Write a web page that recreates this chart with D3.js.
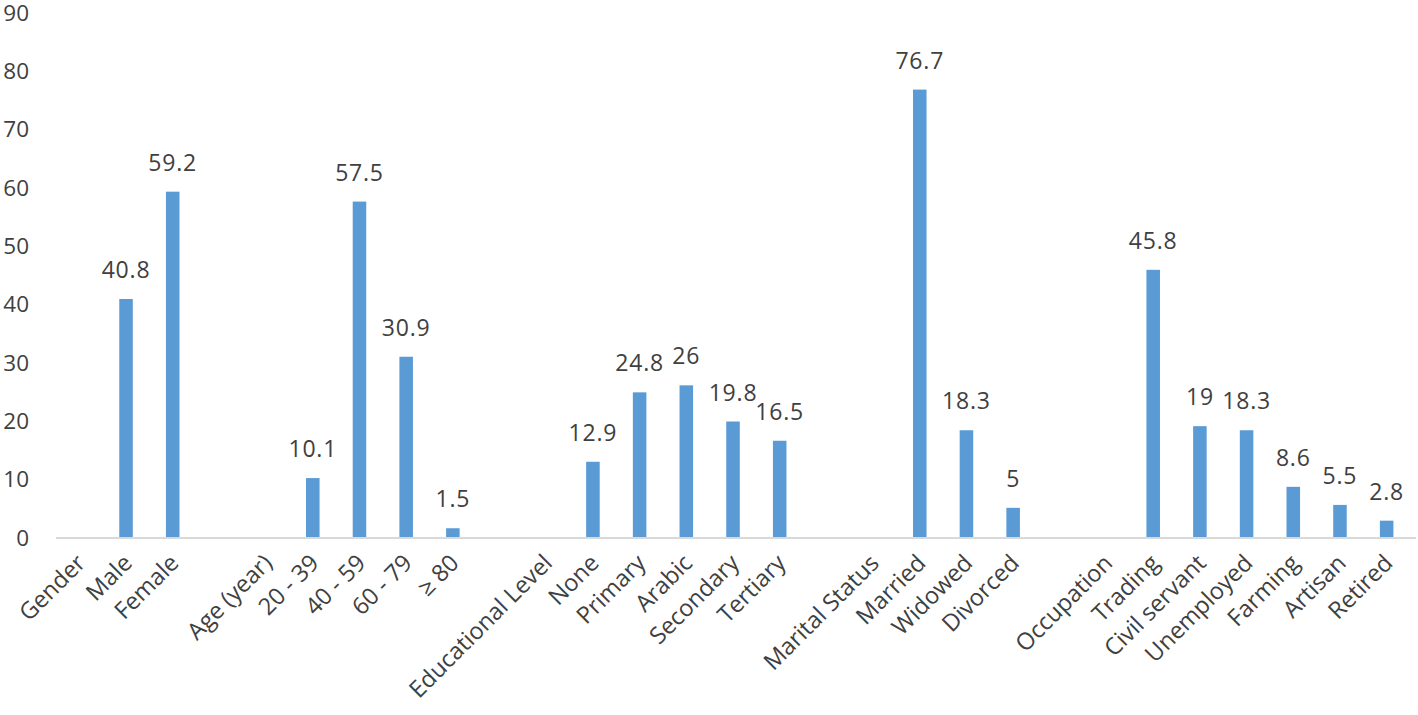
<!DOCTYPE html>
<html><head><meta charset="utf-8">
<script src="https://cdn.jsdelivr.net/npm/d3@7"></script>
<style>body{margin:0;background:#fff}text{font-family:"Open Sans",sans-serif}</style>
</head><body><svg id="c" width="1418" height="715"></svg>
<script>
const categories = ["Gender","Male","Female","","Age (year)","20 - 39","40 - 59","60 - 79","≥ 80","","Educational Level","None","Primary","Arabic","Secondary","Tertiary","","Marital Status","Married","Widowed","Divorced","","Occupation","Trading","Civil servant","Unemployed","Farming","Artisan","Retired"];
const values = [null,40.8,59.2,null,null,10.1,57.5,30.9,1.5,null,null,12.9,24.8,26,19.8,16.5,null,null,76.7,18.3,5,null,null,45.8,19,18.3,8.6,5.5,2.8];
const yTicks = [0,10,20,30,40,50,60,70,80,90];

const svg = d3.select("#c");
const keys = categories.map((c,i)=>i);
const x = d3.scaleBand().domain(keys).range([56,1410]).paddingInner(0.71).paddingOuter(0.355);
const y = d3.scaleLinear().domain([0,90]).range([537,12]);
const col = "#404040";

// y tick labels
svg.append("g").attr("transform","translate(29,0)")
  .call(d3.axisLeft(y).tickValues(yTicks).tickSize(0).tickPadding(0))
  .call(g=>g.select(".domain").remove())
  .selectAll("text").attr("font-size",22.5).attr("fill",col).attr("font-family","Open Sans, sans-serif").attr("dy","0.36em");

// baseline
svg.append("line").attr("x1",56).attr("x2",1416).attr("y1",y(0)+1).attr("y2",y(0)+1)
  .attr("stroke","#d9d9d9").attr("stroke-width",2);

// bars
const data = keys.map(i=>({i, c:categories[i], v:values[i]})).filter(d=>d.v!=null);
svg.append("g").selectAll("rect").data(data).join("rect")
  .attr("x",d=>x(d.i)).attr("width",x.bandwidth())
  .attr("y",d=>y(d.v)).attr("height",d=>y(0)-y(d.v)).attr("fill","#5b9bd5");

// value labels
svg.append("g").selectAll("text").data(data).join("text")
  .attr("x",d=>x(d.i)+x.bandwidth()/2).attr("y",d=>y(d.v)-21)
  .attr("text-anchor","middle").attr("font-size",23).attr("letter-spacing",0.8).attr("fill",col)
  .text(d=>d.v);

// category labels
svg.append("g").selectAll("text").data(keys.filter(i=>categories[i])).join("text")
  .attr("transform",i=>`translate(${x(i)+x.bandwidth()/2-5},${552}) rotate(-45)`)
  .attr("text-anchor","end").attr("dy","0.75em").attr("font-size",23.5).attr("fill",col)
  .text(i=>categories[i]);
</script></body></html>
